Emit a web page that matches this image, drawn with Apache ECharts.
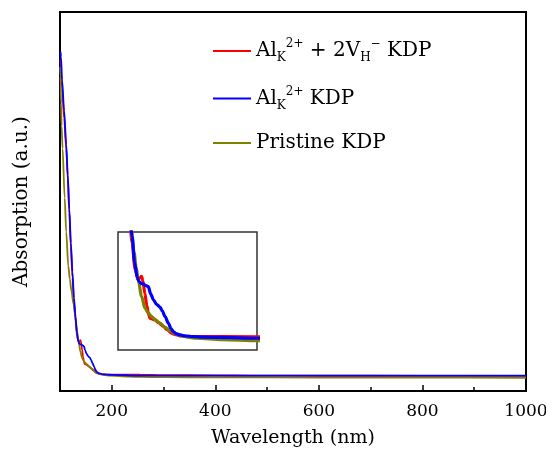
<!DOCTYPE html>
<html><head><meta charset="utf-8">
<script src="https://cdn.jsdelivr.net/npm/echarts@6/dist/echarts.min.js"></script>
<style>html,body{margin:0;padding:0;background:#fff}#c{width:546px;height:453px}</style>
</head><body><div id="c"></div>
<script>
// Al_K^2+ + 2V_H^- KDP (red)
const wlAlV = [101,102,104,108,112,115,118,121,124,127,130,133,136,137.5,139.4,140.8,142.7,144.6,146.1,147.7,152.7,156,161,164.7,169.4,173.3,179.4,190.5,254.5,300,400,470,600,800,1000];
const absAlV = [87.5,84,80,72,64,56,47,38,30,23.5,18.5,14.5,12.9,13.2,13.4,12.7,10.8,9.0,7.9,7.1,6.84,6.43,5.87,5.38,4.81,4.61,4.41,4.33,4.29,4.2,4.12,4.07,4.03,4.01,4.0];
// Al_K^2+ KDP (blue)
const wlAl = [101,102,104,108,112,115,118,121,124,127,130,132.5,135.1,137,138.9,140.8,143.7,146.1,148.5,151.3,154.2,157.7,159.9,162.8,166,168.5,171,174.3,177.7,182.9,191,200.1,254.5,300,400,500,600,700,800,900,1000];
const absAl = [89.5,88,82,74,65,57,48,39,31.5,24.5,19.5,15.5,13.24,12.59,12.35,12.27,12.03,11.86,10.73,9.84,9.19,8.78,8.22,7.33,6.35,5.54,5.06,4.73,4.57,4.41,4.33,4.25,4.07,4.06,4.05,4.05,4.05,4.04,4.04,4.04,4.04];
// Pristine KDP (olive)
const wlPri = [100.5,101,102,103,105,109,112,116,119,122,126,129,132,134,136,139.4,142.7,146.1,149.4,153.2,157.7,162.8,167.7,173.3,179.4,186.7,194.4,219.2,254.5,300,400,600,800,1000];
const absPri = [85.5,83,76,70,64,51,42,33,29.5,26.5,23,20.5,17,14.8,12.9,10.41,8.62,7.89,7.33,6.84,6.35,5.70,5.18,4.73,4.41,4.20,4.08,3.88,3.71,3.65,3.6,3.55,3.52,3.5];

const majorTicks = [200,400,600,800,1000];
const minorTicks = [300,500,700,900];
const seriesNames = ['AlV','Al','Pristine'];
const legendLabels = {
  AlV: '{n|Al}{sub|K}{sup|2+}{n| + 2V}{sub|H}{sup|\u2212}{n| KDP}',
  Al: '{n|Al}{sub|K}{sup|2+}{n| KDP}',
  Pristine: '{n|Pristine KDP}'
};
const colors = {AlV:'#ff0000', Al:'#0000ff', Pristine:'#808000'};

const zip = (xs, ys) => xs.map((x, i) => [x, ys[i]]);
const F = 'DejaVu Serif';

const dataMap = {AlV: zip(wlAlV, absAlV), Al: zip(wlAl, absAl), Pristine: zip(wlPri, absPri)};
const drawOrder = ['AlV','Pristine','Al'];

const series = [];
drawOrder.forEach(n => {
  series.push({name:n, type:'line', xAxisIndex:0, yAxisIndex:0, data:dataMap[n], showSymbol:false, symbol:'none',
    smooth:0.3, smoothMonotone:'x', lineStyle:{color:colors[n], width:1.8}, itemStyle:{color:colors[n]}, z:3});
});
drawOrder.forEach(n => {
  series.push({name:n, type:'line', xAxisIndex:2, yAxisIndex:1, data:dataMap[n], showSymbol:false, symbol:'none',
    smooth:0.3, smoothMonotone:'x', clip:true, lineStyle:{color:colors[n], width:3.2}, itemStyle:{color:colors[n]}, z:5});
});

const chart = echarts.init(document.getElementById('c'));
chart.setOption({
  animation:false,
  backgroundColor:'#fff',
  legend:{
    orient:'vertical', left:208, top:33, itemGap:21.5, itemWidth:38, itemHeight:2, icon:'rect',
    data: seriesNames,
    formatter: n => legendLabels[n],
    textStyle:{
      color:'#000', fontFamily:F, fontSize:20,
      rich:{
        n:{fontFamily:F, fontSize:20, lineHeight:26, color:'#000'},
        sub:{fontFamily:F, fontSize:12, lineHeight:12, verticalAlign:'bottom', color:'#000'},
        sup:{fontFamily:F, fontSize:12, lineHeight:12, verticalAlign:'top', color:'#000'}
      }
    }
  },
  grid:[
    {left:60, right:20, top:12, bottom:62, outerBoundsMode:'none', containLabel:false, show:true, borderColor:'#000', borderWidth:2, backgroundColor:'transparent'},
    {left:118, top:232, width:139, height:118, outerBoundsMode:'none', containLabel:false, show:true, borderColor:'#333', borderWidth:1.5, backgroundColor:'#fff', z:4}
  ],
  xAxis:[
    {type:'value', gridIndex:0, position:'bottom', min:100, max:1000,
      axisLine:{show:true, lineStyle:{color:'#000', width:2}},
      axisTick:{show:true, inside:true, length:6, customValues:majorTicks, lineStyle:{color:'#000', width:1.5}},
      axisLabel:{show:true, customValues:majorTicks, formatter: v => String(v), color:'#000', fontFamily:F, fontSize:17, margin:12},
      splitLine:{show:false},
      name:'Wavelength (nm)', nameLocation:'middle', nameGap:38,
      nameTextStyle:{color:'#000', fontFamily:F, fontSize:19}},
    {type:'value', gridIndex:0, position:'bottom', min:100, max:1000,
      axisLine:{show:false},
      axisTick:{show:true, inside:true, length:4, customValues:minorTicks, lineStyle:{color:'#000', width:1.5}},
      axisLabel:{show:false}, splitLine:{show:false}},
    {type:'value', gridIndex:1, min:116, max:254, show:false, splitLine:{show:false}}
  ],
  yAxis:[
    {type:'value', gridIndex:0, min:0, max:100,
      axisLine:{show:true, lineStyle:{color:'#000', width:2}},
      axisTick:{show:false}, axisLabel:{show:false}, splitLine:{show:false},
      name:'Absorption (a.u.)', nameLocation:'middle', nameGap:28,
      nameTextStyle:{color:'#000', fontFamily:F, fontSize:20}},
    {type:'value', gridIndex:1, min:2.3, max:20.1, show:false, splitLine:{show:false}}
  ],
  series: series
});
</script></body></html>
